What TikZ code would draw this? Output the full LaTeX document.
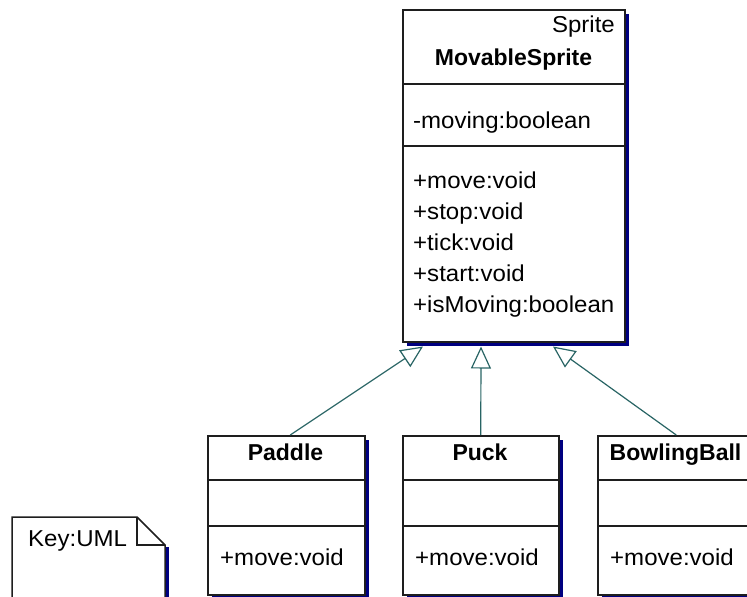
\documentclass[tikz,border=0pt]{standalone}
\usepackage{fontspec}
\setmainfont{Liberation Sans}
\newfontfamily\memberfont{Liberation Sans}[FakeStretch=1.045]
\usetikzlibrary{arrows.meta,shadows}
\definecolor{shadowblue}{RGB}{0,0,128}
\definecolor{linkteal}{RGB}{40,100,100}
\definecolor{edge}{RGB}{30,30,30}
\begin{document}
\begin{tikzpicture}[x=1pt,y=-1pt,
  classbox/.style={draw=edge, line width=1.5pt, fill=white, rectangle, inner sep=0pt,
    anchor=north west,
    general shadow={fill=shadowblue, shadow xshift=4pt, shadow yshift=-4pt}},
  sep/.style={draw=edge, line width=1.5pt},
  txt/.style={font=\memberfont\fontsize{23}{28}\selectfont, inner sep=0pt},
  title/.style={font=\fontsize{23}{28}\selectfont\bfseries, inner sep=0pt, anchor=base},
  member/.style={txt, anchor=base west},
  inherit/.style={draw=linkteal, line width=1.2pt,
    -{Triangle[open, length=22pt, width=20pt, fill=white]}},
]
\useasboundingbox (0,0) rectangle (747,597);
\fill[white] (0,0) rectangle (747,597);
\clip (0,0) rectangle (747,597);

% superclass
\node[classbox, minimum width=222pt, minimum height=332pt] (ms) at (402,9) {};
\draw[sep] ([yshift=-75pt]ms.north west) -- ([yshift=-75pt]ms.north east);
\draw[sep] ([yshift=-137pt]ms.north west) -- ([yshift=-137pt]ms.north east);
\node[txt, anchor=base east] (msstereo) at (615,32) {Sprite};
\node[title] (msname) at (513.5,65) {MovableSprite};
\node[member] (msattr) at (413,128) {-moving:boolean};
\node[member] (mmove)  at (413,188) {+move:void};
\node[member] (mstop)  at (413,219) {+stop:void};
\node[member] (mtick)  at (413,250) {+tick:void};
\node[member] (mstart) at (413,281) {+start:void};
\node[member] (mis)    at (413,312) {+isMoving:boolean};

% subclasses
\node[classbox, minimum width=157pt, minimum height=159pt] (paddle) at (207,435) {};
\draw[sep] ([yshift=-45pt]paddle.north west) -- ([yshift=-45pt]paddle.north east);
\draw[sep] ([yshift=-91pt]paddle.north west) -- ([yshift=-91pt]paddle.north east);
\node[title] (paddlename) at (285.5,460) {Paddle};
\node[member] (paddlemove) at (220,565) {+move:void};

\node[classbox, minimum width=156pt, minimum height=159pt] (puck) at (402,435) {};
\draw[sep] ([yshift=-45pt]puck.north west) -- ([yshift=-45pt]puck.north east);
\draw[sep] ([yshift=-91pt]puck.north west) -- ([yshift=-91pt]puck.north east);
\node[title] (puckname) at (480,460) {Puck};
\node[member] (puckmove) at (415,565) {+move:void};

\node[classbox, minimum width=157pt, minimum height=159pt] (bowl) at (597,435) {};
\draw[sep] ([yshift=-45pt]bowl.north west) -- ([yshift=-45pt]bowl.north east);
\draw[sep] ([yshift=-91pt]bowl.north west) -- ([yshift=-91pt]bowl.north east);
\node[title] (bowlname) at (675.5,460) {BowlingBall};
\node[member] (bowlmove) at (610,565) {+move:void};

% generalisation links
\draw[inherit] ([xshift=4pt]paddle.north) -- ([shift={(21pt,-4pt)}]ms.south west);
\draw[inherit] (puck.north) -- ([shift={(79pt,-4pt)}]ms.south west);
\draw[inherit] (bowl.north) -- ([shift={(151pt,-4pt)}]ms.south west);

% legend note with folded corner
\fill[shadowblue] (165,547) rectangle (169,600);
\draw[sep, line join=miter] (12,600) -- (12,517) -- (137,517) -- (165,545) -- (165,600);
\draw[sep, line join=miter] (137,517) -- (137,545) -- (165,545);
\node[member] (key) at (28,546) {Key:UML};
\end{tikzpicture}
\end{document}
